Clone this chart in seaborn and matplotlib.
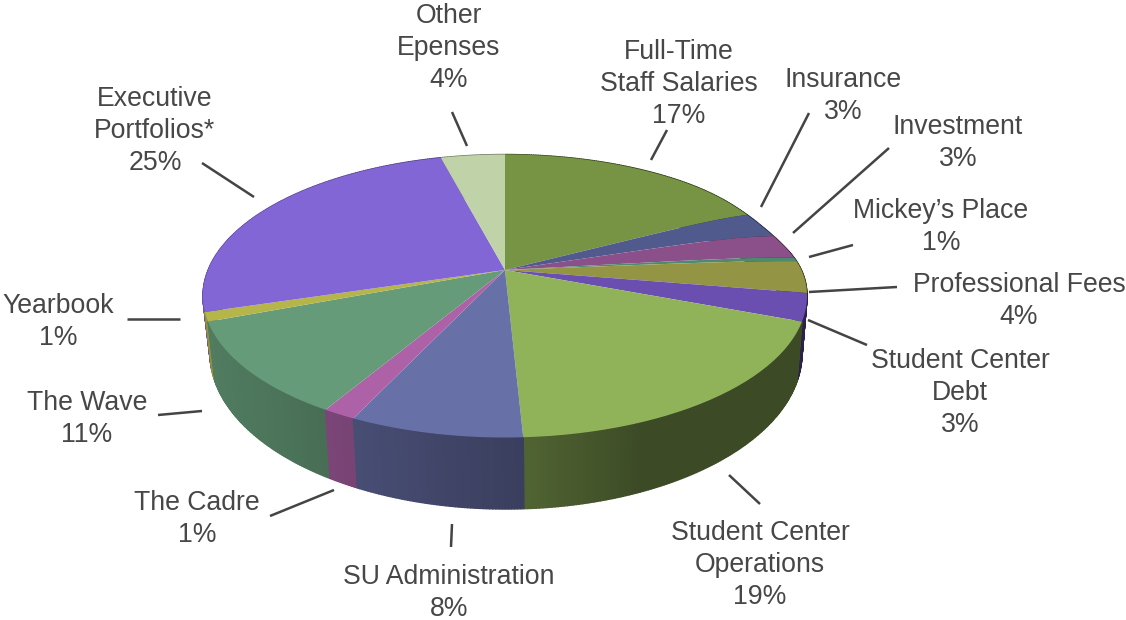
import numpy as np
import matplotlib
matplotlib.use("Agg")
import matplotlib.pyplot as plt
from matplotlib.path import Path
from matplotlib.transforms import Transform
import seaborn as sns

categories = ["Full-Time\nStaff Salaries", "Insurance", "Investment", "Mickey\u2019s Place",
              "Professional Fees", "Student Center\nDebt", "Student Center\nOperations",
              "SU Administration", "The Cadre", "The Wave", "Yearbook",
              "Executive\nPortfolios*", "Other\nEpenses"]
# printed percentages, and the unrounded slice sizes as read from the slice boundaries
percent_labels = [17, 3, 3, 1, 4, 3, 19, 8, 1, 11, 1, 25, 4]
slice_sizes = [17.3, 2.85, 3.05, 0.5, 3.9, 3.15, 18.45, 7.8, 1.5, 10.75, 1.05, 25.6, 4.1]
colors = ["#779445", "#515a8c", "#8b4f8a", "#4f8a6e", "#949445", "#6a4fb0", "#90b35a",
          "#6870a8", "#ad62a8", "#659b78", "#b5b54a", "#8266d6", "#c0d2a8"]

# layout: label centres and leader lines in figure pixels
label_xy = [(679, 84), (843, 96), (958, 143), (941, 227), (1019, 301), (960, 393), (760, 565),
            (449, 593), (197, 519), (87, 419), (58, 322), (155, 131), (449, 48)]
leaders = [((651, 160), (667, 130)), ((761, 207), (809, 113)), ((793, 233), (889, 148)),
           ((809, 257), (853, 245)), ((809, 292), (897, 287)), ((808, 320), (867, 345)),
           ((729, 475), (760, 504)), ((451, 547), (452, 524)), ((270, 516), (334, 490)),
           ((158, 415), (202, 411)), ((127, 319), (180, 319)), ((202, 163), (254, 197)),
           ((467, 146), (452, 112))]

TOP = (505.0, 296.0, 302.0, 141.5)     # centre x, centre y, radius x, radius y
BOTTOM = (506.0, 353.0, 296.0, 156.0)
TILT = 0.184


def tilt(x, y):
    """Perspective of the disc: its centre moves towards the far rim."""
    d = 1 + TILT * y
    return x * np.sqrt(1 - TILT ** 2) / d, (y + TILT) / d


def top_px(px, py):
    """Disc to picture; the far right rim of the reference sags a little."""
    psi = np.degrees(np.arctan2(px, py))
    sag = 5 * np.exp(-((psi - 62) / 14) ** 2) * np.hypot(px, py) ** 8
    return TOP[0] + TOP[2] * px, TOP[1] - TOP[3] * py + sag


class Perspective(Transform):
    input_dims = output_dims = 2
    has_inverse = False

    def transform_non_affine(self, xy):
        xy = np.asarray(xy, float)
        return np.column_stack(top_px(*tilt(xy[:, 0], xy[:, 1])))

    def transform_path_non_affine(self, path):
        pts = [curve(np.linspace(0, 1, 16)) for curve, _ in path.iter_bezier()]
        return Path(self.transform_non_affine(np.vstack(pts)))


sns.set_theme(style="white")
plt.rcParams["font.family"] = ["Liberation Sans", "DejaVu Sans"]

fig = plt.figure(figsize=(11.26, 6.2), dpi=100)
ax = fig.add_axes([0, 0, 1, 1])

wedges, _ = ax.pie(slice_sizes, colors=colors, startangle=90, counterclock=False, radius=1.0,
                   normalize=True, wedgeprops=dict(linewidth=0, zorder=5))
ax.set_aspect("auto")
ax.set_xlim(0, 1126)
ax.set_ylim(620, 0)
ax.axis("off")

persp = Perspective()
for w in wedges:
    w.set_transform(persp + ax.transData)

# extruded rim, shaded from left to right, taken from the pie's own wedge angles
strips = []
for w, c in zip(wedges, colors):
    t1, t2 = w.theta1, w.theta2
    n = max(2, int(abs(t2 - t1) * 2))
    edges = np.radians(np.linspace(t1, t2, n + 1))
    px, py = tilt(np.cos(edges), np.sin(edges))
    tx, ty = top_px(px, py)
    bx, by = BOTTOM[0] + BOTTOM[2] * px, BOTTOM[1] - BOTTOM[3] * py
    base = np.array(matplotlib.colors.to_rgb(c))
    for i in range(n):
        shade = np.interp((tx[i] + tx[i + 1]) / 2, [210, 523, 640, 800], [0.80, 0.56, 0.42, 0.42])
        strips.append(((by[i] + by[i + 1]) / 2,
                       [tx[i], tx[i + 1], bx[i + 1], bx[i]],
                       [ty[i], ty[i + 1], by[i + 1], by[i]], base * shade))
for _, xs, ys, col in sorted(strips, key=lambda s: s[0]):
    ax.fill(xs, ys, facecolor=col, edgecolor=col, linewidth=1.0, zorder=3)

for (a, b) in leaders:
    ax.plot([a[0], b[0]], [a[1], b[1]], color="#444444", lw=1.8, solid_capstyle="butt", zorder=6)

for name, v, (x, y) in zip(categories, percent_labels, label_xy):
    ax.text(x, y, f"{name}\n{v}%", ha="center", va="center", multialignment="center",
            fontsize=19.2, color="#474747", linespacing=1.3, zorder=7)

fig.savefig("out.png", dpi=100)
